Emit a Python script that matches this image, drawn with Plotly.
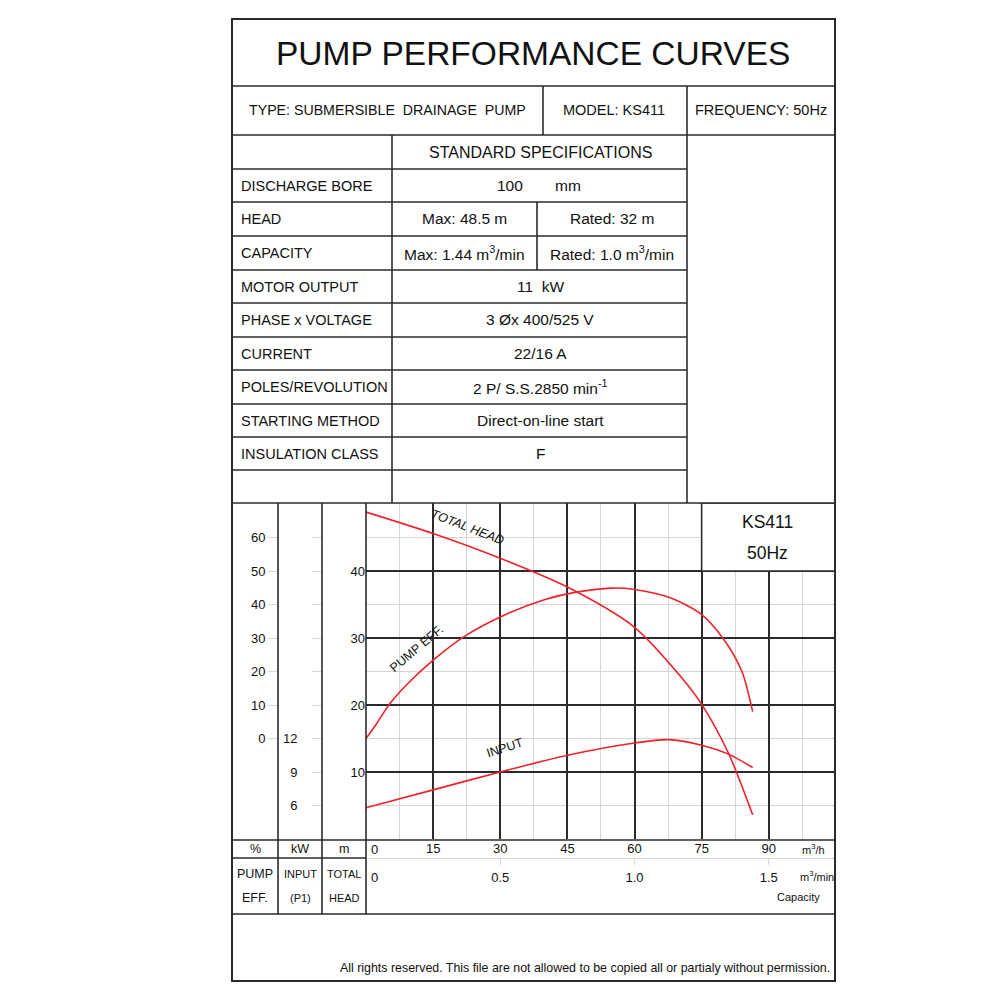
import plotly.graph_objects as go

# ---- curve readings (capacity in m3/h) ----
head_q = [0, 15, 30, 45, 60, 70, 75, 81, 86.4]
head_m = [48.8, 45.6, 41.9, 37.6, 31.6, 24.5, 20.1, 12.8, 3.6]

eff_q = [0, 2.4, 5.4, 9.8, 15, 22, 30, 40, 47, 55, 60, 68, 75, 80, 84, 86.4]
eff_pct = [0, 4.5, 10.5, 17, 23.4, 30.5, 36.3, 41.5, 43.7, 44.9, 44.5, 42, 37, 29.5, 20, 8]

input_q = [0, 15, 30, 45, 60, 67.5, 75, 81, 86.4]
input_kw = [5.8, 7.4, 9.0, 10.5, 11.6, 11.9, 11.4, 10.6, 9.4]

# ---- axis ticks ----
q_ticks = [15, 30, 45, 60, 75, 90]
q_minor = [7.5, 22.5, 37.5, 52.5, 67.5, 82.5, 97.5]
qmin_ticks = [0.5, 1.0, 1.5]
qmin_labels = ["0.5", "1.0", "1.5"]
head_ticks = [10, 20, 30, 40]
head_minor = [5, 15, 25, 35, 45]
eff_ticks = [0, 10, 20, 30, 40, 50, 60]
kw_ticks = [6, 9, 12]
kw_minor = [15, 18, 21, 24, 27, 30]

# ---- spec table text ----
spec_labels = ["DISCHARGE BORE", "HEAD", "CAPACITY", "MOTOR OUTPUT", "PHASE x VOLTAGE",
               "CURRENT", "POLES/REVOLUTION", "STARTING METHOD", "INSULATION CLASS"]
spec_values = [None, None, None, "11&nbsp;&nbsp;kW", "3 Øx 400/525 V", "22/16 A",
               "2 P/ S.S.2850 min<sup>-1</sup>", "Direct-on-line start", "F"]

FONT = "Liberation Sans, Arial, sans-serif"
RED = "#ee2229"
DARK = "#2b2b2b"
LIGHT = "#d6d6d6"

Q_MAX = 104.8
H_MAX = 50.15

def px(x):
    return x / 1000

def py(y):
    return 1 - y / 1000

fig = go.Figure()

curve_line = dict(color=RED, width=1.6, shape="spline", smoothing=0.8)
fig.add_trace(go.Scatter(x=head_q, y=head_m, mode="lines", line=curve_line, xaxis="x", yaxis="y", hoverinfo="skip"))
fig.add_trace(go.Scatter(x=eff_q, y=eff_pct, mode="lines", line=curve_line, xaxis="x", yaxis="y2", hoverinfo="skip"))
fig.add_trace(go.Scatter(x=input_q, y=input_kw, mode="lines", line=curve_line, xaxis="x", yaxis="y3", hoverinfo="skip"))
# same head curve on the m3/min scale, kept invisible so the second capacity axis is drawn
fig.add_trace(go.Scatter(x=[q / 60 for q in head_q], y=head_m, mode="lines", line=dict(width=0),
                         opacity=0, xaxis="x2", yaxis="y", hoverinfo="skip"))

shapes = []

def hline(y, x0, x1, w=1.6, c=DARK):
    shapes.append(dict(type="line", xref="paper", yref="paper", x0=px(x0), x1=px(x1), y0=py(y), y1=py(y),
                       line=dict(color=c, width=w), layer="above"))

def vline(x, y0, y1, w=1.6, c=DARK):
    shapes.append(dict(type="line", xref="paper", yref="paper", x0=px(x), x1=px(x), y0=py(y0), y1=py(y1),
                       line=dict(color=c, width=w), layer="above"))

# KS411 box (hides grid)
shapes.append(dict(type="rect", xref="x", yref="y", x0=75, x1=Q_MAX, y0=40, y1=H_MAX,
                   fillcolor="white", line=dict(color=DARK, width=1.6), layer="above"))

# outer frame
shapes.append(dict(type="rect", xref="paper", yref="paper", x0=px(232), x1=px(835), y0=py(981), y1=py(19),
                   line=dict(color=DARK, width=2), layer="above"))

hline(86, 232, 835)
hline(135, 232, 835)
row_lines = [169, 202, 236, 270, 303, 337, 370, 404, 437, 470]
for y in row_lines:
    hline(y, 232, 687)
hline(503, 232, 835)
vline(543, 86, 135)
vline(687, 86, 503)
vline(392, 135, 503)
vline(537, 202, 270)

# chart side columns
for x in [278, 322, 366]:
    vline(x, 503, 914)
hline(840, 232, 835)
hline(858, 232, 366)
hline(914, 232, 835)

ann = []

def text(x, y, s, size, anchor="center", **kw):
    ann.append(dict(x=px(x), y=py(y), xref="paper", yref="paper", text=s, showarrow=False,
                    xanchor=anchor, yanchor="middle", font=dict(family=FONT, size=size, color="#111"), **kw))

text(533, 53, "PUMP PERFORMANCE CURVES", 33.5)
text(387, 110, "TYPE: SUBMERSIBLE&nbsp;&nbsp;DRAINAGE&nbsp;&nbsp;PUMP", 14.2)
text(614, 110, "MODEL: KS411", 14.5)
text(761, 110, "FREQUENCY: 50Hz", 14.5)
text(540, 152, "STANDARD SPECIFICATIONS", 16)

row_tops = [169, 202, 236, 270, 303, 337, 370, 404, 437]
for i, lab in enumerate(spec_labels):
    yc = row_tops[i] + 16.8
    text(239, yc, lab, 14.5, anchor="left")
    if spec_values[i] is not None:
        text(540, yc, spec_values[i], 15.5)

text(510, 186, "100", 15.5)
text(568, 186, "mm", 15.5)
text(464, 219, "Max: 48.5 m", 15.5)
text(612, 219, "Rated: 32 m", 15.5)
text(464, 253, "Max: 1.44 m<sup>3</sup>/min", 15.5)
text(612, 253, "Rated: 1.0 m<sup>3</sup>/min", 15.5)

# chart labels
text(767, 522, "KS411", 17.5)
text(767, 553, "50Hz", 17.5)
text(255, 849, "%", 12.5)
text(300, 849, "kW", 12.5)
text(344, 849, "m", 12.5)
text(813, 849, "m<sup>3</sup>/h", 11)
text(255, 874, "PUMP", 12.5)
text(255, 898, "EFF.", 12.5)
text(300, 874, "INPUT", 11)
text(300, 898, "(P1)", 11)
text(344, 874, "TOTAL", 11)
text(344, 898, "HEAD", 11)
text(817, 876, "m<sup>3</sup>/min", 11)
text(798, 897, "Capacity", 11)
text(832, 968, "All rights reserved. This file are not allowed to be copied all or partialy without permission.", 12.4, anchor="right")

# zero labels of both capacity scales, set just right of the left border
for yy, ref in [(849, "x"), (877, "x2")]:
    ann.append(dict(x=0, y=py(yy), xref=ref, yref="paper", text="0", showarrow=False, xanchor="left",
                    yanchor="middle", xshift=3, font=dict(family=FONT, size=13, color="#111")))

# curve labels in data coordinates
ann.append(dict(x=22.6, y=46.6, xref="x", yref="y", text="TOTAL HEAD", textangle=21, showarrow=False,
                font=dict(family=FONT, size=12.5, color="#111", style="italic")))
ann.append(dict(x=11.2, y=28.4, xref="x", yref="y", text="PUMP EFF.", textangle=-40, showarrow=False,
                font=dict(family=FONT, size=12.5, color="#111")))
ann.append(dict(x=31.0, y=13.6, xref="x", yref="y", text="INPUT", textangle=-18, showarrow=False,
                font=dict(family=FONT, size=12.5, color="#111")))

tick_font = dict(family=FONT, size=13, color="#111")

fig.update_layout(
    width=1000, height=1000,
    margin=dict(l=0, r=0, t=0, b=0),
    paper_bgcolor="white", plot_bgcolor="white",
    showlegend=False,
    shapes=shapes,
    annotations=ann,
    xaxis=dict(domain=[px(366), px(835)], range=[0, Q_MAX], tickmode="array", tickvals=q_ticks,
               showgrid=True, gridcolor=DARK, gridwidth=1.6, zeroline=False, showline=False, ticks="",
               tickfont=tick_font, anchor="y",
               minor=dict(tickvals=q_minor, showgrid=True, gridcolor=LIGHT, gridwidth=1)),
    xaxis2=dict(overlaying="x", anchor="free", position=py(858), side="bottom", range=[0, Q_MAX / 60],
                tickmode="array", tickvals=qmin_ticks, ticktext=qmin_labels, showgrid=False, zeroline=False,
                showline=True, linecolor=LIGHT, linewidth=1, ticks="outside", ticklen=6, tickcolor=LIGHT,
                tickfont=tick_font, ticklabelstandoff=1),
    yaxis=dict(domain=[py(839), py(503)], range=[0, H_MAX], tickmode="array", tickvals=head_ticks,
               showgrid=True, gridcolor=DARK, gridwidth=1.6, zeroline=False, showline=False, ticks="",
               tickfont=tick_font, anchor="x",
               minor=dict(tickvals=head_minor, showgrid=True, gridcolor=LIGHT, gridwidth=1)),
    yaxis2=dict(overlaying="y", anchor="free", position=px(278), side="left",
                range=[-30, 2 * (H_MAX - 15)], tickmode="array", tickvals=eff_ticks,
                showgrid=False, zeroline=False, showline=False, ticks="outside", ticklen=10, tickcolor=LIGHT,
                tickfont=tick_font),
    yaxis3=dict(overlaying="y", anchor="free", position=px(322), side="left",
                range=[3, 3 + H_MAX * 0.6], tickmode="array", tickvals=kw_ticks,
                showgrid=False, zeroline=False, showline=False, ticks="outside", ticklen=10, tickcolor=LIGHT,
                tickfont=tick_font, ticklabelstandoff=12,
                minor=dict(tickvals=kw_minor, ticks="outside", ticklen=10, tickcolor=LIGHT, showgrid=False)),
)

fig.write_html("out.html", config={"displayModeBar": False},
               post_script="document.body.style.margin='0';")
